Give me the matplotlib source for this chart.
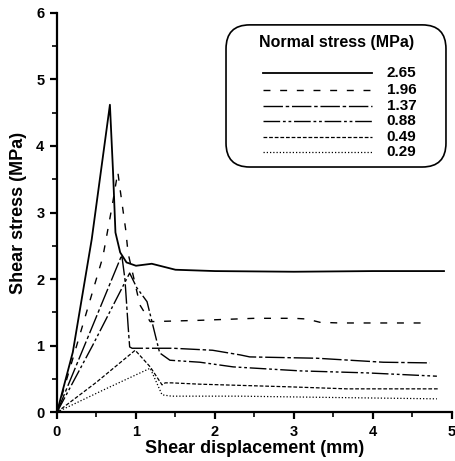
import matplotlib
matplotlib.use("Agg")
import matplotlib.pyplot as plt
from matplotlib.patches import FancyBboxPatch
from matplotlib.lines import Line2D
from matplotlib.ticker import MultipleLocator

plt.rcParams['font.family'] = ['Liberation Sans', 'DejaVu Sans']

# ---- data ----
normal_stress = ["2.65", "1.96", "1.37", "0.88", "0.49", "0.29"]

x_265 = [0, 0.2, 0.44, 0.67, 0.71, 0.74, 0.80, 0.88, 1.0, 1.2, 1.5, 2.0, 3.0, 4.0, 4.9]
y_265 = [0, 0.9, 2.6, 4.62, 3.6, 2.7, 2.4, 2.25, 2.2, 2.23, 2.14, 2.12, 2.11, 2.12, 2.12]

x_196 = [0, 0.58, 0.70, 0.77, 0.80, 0.87, 0.90, 1.05, 1.18, 1.5, 1.81, 2.5, 3.0, 3.16, 3.33, 3.58, 4.63]
y_196 = [0, 2.33, 3.11, 3.61, 3.34, 2.74, 2.39, 1.61, 1.36, 1.37, 1.38, 1.41, 1.41, 1.40, 1.35, 1.34, 1.34]

x_137 = [0, 0.4, 0.82, 0.86, 0.90, 0.92, 0.95, 1.47, 1.97, 2.32, 2.44, 3.29, 4.13, 4.72]
y_137 = [0, 1.15, 2.36, 2.0, 1.3, 0.98, 0.96, 0.96, 0.93, 0.86, 0.83, 0.81, 0.75, 0.74]

x_088 = [0, 0.45, 0.92, 1.01, 1.14, 1.3, 1.43, 1.81, 2.23, 3.08, 3.92, 4.81]
y_088 = [0, 1.0, 2.09, 1.87, 1.66, 0.89, 0.78, 0.75, 0.68, 0.62, 0.59, 0.54]

x_049 = [0, 0.5, 0.99, 1.18, 1.33, 1.37, 1.45, 1.81, 2.95, 3.67, 4.82]
y_049 = [0, 0.45, 0.93, 0.68, 0.41, 0.44, 0.44, 0.42, 0.38, 0.35, 0.35]

x_029 = [0, 0.6, 1.18, 1.33, 1.45, 2.32, 3.5, 4.81]
y_029 = [0, 0.34, 0.66, 0.26, 0.24, 0.24, 0.22, 0.20]

series_x = [x_265, x_196, x_137, x_088, x_049, x_029]
series_y = [y_265, y_196, y_137, y_088, y_049, y_029]

styles = [
    dict(ls='-', lw=1.3),
    dict(ls=(0, (5, 7)), lw=1.0),
    dict(ls=(0, (14, 2, 2.5, 2)), lw=1.0),
    dict(ls=(0, (12, 2, 2, 2, 2, 2)), lw=1.0),
    dict(ls=(0, (3, 1.5)), lw=0.9),
    dict(ls=(0, (1, 1.6)), lw=0.9),
]

fig = plt.figure(figsize=(4.56, 4.61), dpi=100)
ax = fig.add_axes([0.125, 0.106, 0.866, 0.866])

for xs, ys, st in zip(series_x, series_y, styles):
    ax.plot(xs, ys, color='black', **st)

ax.set_xlim(0, 5)
ax.set_ylim(0, 6)
ax.xaxis.set_major_locator(MultipleLocator(1))
ax.xaxis.set_minor_locator(MultipleLocator(0.5))
ax.yaxis.set_major_locator(MultipleLocator(1))
ax.yaxis.set_minor_locator(MultipleLocator(0.5))
for s in ['top', 'right']:
    ax.spines[s].set_visible(False)
for s in ['left', 'bottom']:
    ax.spines[s].set_linewidth(1.6)
ax.tick_params(which='major', direction='out', length=5, width=1.6, labelsize=10.5, pad=4)
ax.tick_params(which='minor', direction='out', length=3.5, width=1.2)
for lab in ax.get_xticklabels() + ax.get_yticklabels():
    lab.set_fontweight('bold')

ax.set_xlabel("Shear displacement (mm)", fontsize=13, fontweight='bold', labelpad=1)
ax.set_ylabel("Shear stress (MPa)", fontsize=13, fontweight='bold', labelpad=7)

# ---- legend (manual, rounded box) ----
box = FancyBboxPatch((0.428, 0.614), 0.557, 0.356,
                     boxstyle="round,pad=0,rounding_size=0.06",
                     transform=ax.transAxes, facecolor='white',
                     edgecolor='black', lw=1.2, zorder=5)
ax.add_patch(box)
ax.text(0.709, 0.925, "Normal stress (MPa)", transform=ax.transAxes,
        ha='center', va='center', fontsize=11.5, fontweight='bold', zorder=6)
row_px = [73, 90, 106, 121, 137, 152]
for lab, st, py in zip(normal_stress, styles, row_px):
    yy = (412 - py) / 399
    ax.add_line(Line2D([0.522, 0.797], [yy, yy], transform=ax.transAxes,
                       color='black', zorder=6, **st))
    ax.text(0.835, yy, lab, transform=ax.transAxes, ha='left', va='center',
            fontsize=11, fontweight='bold', zorder=6)

fig.savefig("out.png", dpi=100)
